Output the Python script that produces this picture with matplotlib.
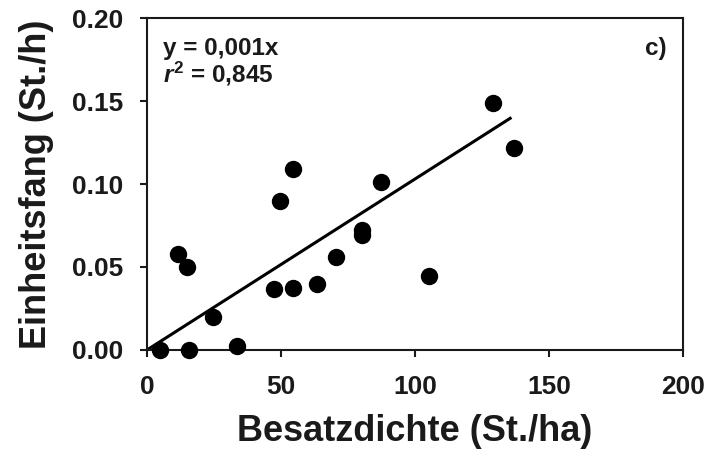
import matplotlib
matplotlib.use("Agg")
import matplotlib.pyplot as plt
import numpy as np

plt.rcParams['font.family'] = ['Liberation Sans', 'DejaVu Sans']
plt.rcParams['mathtext.fontset'] = 'custom'
plt.rcParams['mathtext.rm'] = 'Liberation Sans:bold'
plt.rcParams['mathtext.bf'] = 'Liberation Sans:bold'
plt.rcParams['mathtext.it'] = 'Liberation Sans:italic:bold'

besatzdichte = [4.9, 15.8, 33.5, 24.5, 11.7, 15.0, 47.5, 54.6, 63.3, 70.5,
                80.3, 80.3, 49.6, 54.6, 87.4, 129.0, 137.0, 105.1]
einheitsfang = [0.000, 0.000, 0.0024, 0.020, 0.058, 0.050, 0.037, 0.0375, 0.040, 0.056,
                0.0725, 0.069, 0.0895, 0.109, 0.1015, 0.1485, 0.1215, 0.0444]
slope = 0.00103
line_x = [0.0, 136.0]

xticks = [0, 50, 100, 150, 200]
yticks = [0.00, 0.05, 0.10, 0.15, 0.20]
ytick_labels = ["0.00", "0.05", "0.10", "0.15", "0.20"]

fig = plt.figure(figsize=(7.09, 4.55), dpi=100)
ax = fig.add_axes([0.2073, 0.2308, 0.7560, 0.7296])

ax.plot(line_x, [slope * v for v in line_x], color='black', lw=2.2, zorder=2,
        solid_capstyle='butt')
ax.plot(besatzdichte, einheitsfang, 'o', color='black', ms=11.5, zorder=3,
        clip_on=False)

ax.set_xlim(0, 200)
ax.set_ylim(0, 0.20)
ax.set_xticks(xticks)
ax.set_xticklabels([str(t) for t in xticks])
ax.set_yticks(yticks)
ax.set_yticklabels(ytick_labels)

for s in ax.spines.values():
    s.set_linewidth(1.5)
    s.set_color('#1a1a1a')
ax.tick_params(direction='out', length=5, width=1.5, labelsize=19,
               colors='#1a1a1a')
ax.tick_params(axis='x', pad=13)
ax.tick_params(axis='y', pad=12)
for lab in ax.get_xticklabels() + ax.get_yticklabels():
    lab.set_fontweight('bold')

ax.set_xlabel('Besatzdichte (St./ha)', fontsize=26, fontweight='bold',
              color='#1a1a1a', labelpad=11)
ax.set_ylabel('Einheitsfang (St./h)', fontsize=26, fontweight='bold',
              color='#1a1a1a', labelpad=13)

ax.text(0.030, 0.889, 'y = 0,001x', transform=ax.transAxes, fontsize=17.5,
        fontweight='bold', va='baseline', ha='left', color='#1a1a1a')
ax.text(0.030, 0.806, r'$\mathit{r}^{2}$ = 0,845', transform=ax.transAxes,
        fontsize=17.5, fontweight='bold', va='baseline', ha='left', color='#1a1a1a')
ax.text(0.970, 0.889, 'c)', transform=ax.transAxes, fontsize=17.5,
        fontweight='bold', va='baseline', ha='right', color='#1a1a1a')

fig.savefig('out.png', dpi=100)
